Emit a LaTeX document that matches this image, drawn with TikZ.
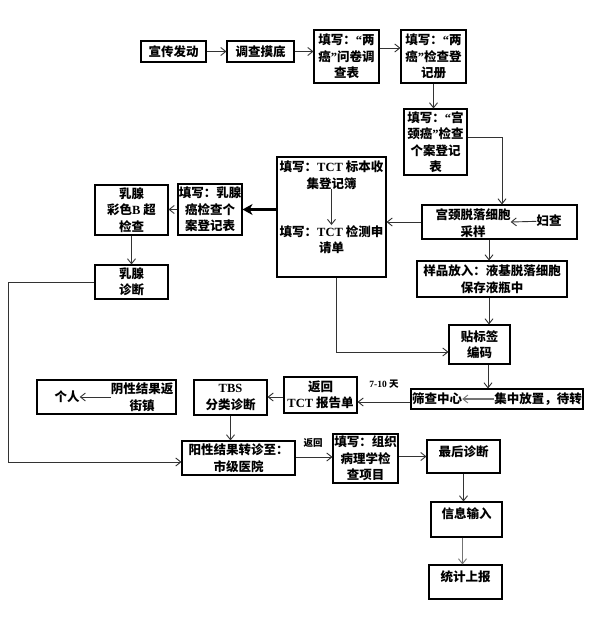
\documentclass[tikz,border=0pt]{standalone}
\usepackage{fontspec}
\setmainfont{Liberation Serif}
\newfontfamily\cjk{Noto Sans CJK SC}
\usetikzlibrary{arrows.meta}
\newcommand\lt[1]{{\rmfamily\bfseries #1}}
\newcommand\mylq{\lt{“}}
\newcommand\myrq{\lt{”}}
\begin{document}
\begin{tikzpicture}[x=1pt,y=-1pt,
 box/.style={draw=black,line width=1.1pt,inner sep=0pt,align=center,font=\cjk\bfseries\fontsize{12.5}{16.5}\selectfont},
 txt/.style={inner sep=0pt,align=center,font=\cjk\bfseries\fontsize{12.5}{16.5}\selectfont},
 small/.style={inner sep=0pt,align=center,font=\cjk\bfseries\fontsize{9.5}{11}\selectfont},
 arr/.style={draw=black!80,line width=0.9pt,-{Straight Barb[length=5pt,width=8pt]}},
 garr/.style={draw=black!55,line width=1.6pt,-{Straight Barb[length=5pt,width=8pt,line width=0.9pt]}},
 thick arr/.style={draw=black,line width=2.6pt,-{Stealth[length=10pt,width=11pt,inset=3pt]}},
]
\useasboundingbox (0,0) rectangle (592,636);
\fill[white] (0,0) rectangle (592,636);

% top row
\node[box,minimum width=65pt,minimum height=21pt] (b1) at (173.5,51.5) {宣传发动};
\node[box,minimum width=67pt,minimum height=21pt] (b2) at (260.5,51.5) {调查摸底};
\node[box,minimum width=65pt,minimum height=53pt] (b3) at (346.5,56.5) {填写：\mylq 两\\癌\myrq 问卷调\\查表};
\node[box,minimum width=65pt,minimum height=53pt] (b4) at (433.5,56.5) {填写：\mylq 两\\癌\myrq 检查登\\记册};
\node[box,minimum width=63pt,minimum height=66pt] (b5) at (435.5,142) {填写：\mylq 宫\\颈癌\myrq 检查\\个案登记\\表};

% TCT box
\node[box,minimum width=109pt,minimum height=120pt] (b6) at (331.5,217) {};
\node[txt] (t6a) at (331.5,175) {填写：\lt{TCT} 标本收\\集登记簿};
\node[txt] (t6b) at (331.5,239.5) {填写：\lt{TCT} 检测申\\请单};

% breast branch
\node[box,minimum width=64pt,minimum height=51pt] (b7) at (210,209.5) {填写：乳腺\\癌检查个\\案登记表};
\node[box,minimum width=73pt,minimum height=50pt] (b8) at (131.5,210) {乳腺\\彩色\lt{B} 超\\检查};
\node[box,minimum width=73pt,minimum height=34pt] (b9) at (131.5,282) {乳腺\\诊断};

% cervical sampling
\node[box,minimum width=155pt,minimum height=34pt] (b10) at (499.5,222) {};
\node[txt] (t10) at (473,223) {宫颈脱落细胞\\采样};
\node[txt] (fz) at (549,221) {妇查};
\node[box,minimum width=150pt,minimum height=36pt] (b11) at (492,279) {样品放入：液基脱落细胞\\保存液瓶中};
\node[box,minimum width=61pt,minimum height=39pt] (b12) at (479.5,344.5) {贴标签\\编码};

% screening centre row
\node[box,minimum width=172pt,minimum height=20pt] (b13) at (497,399) {};
\node[txt] (t13a) at (437,399) {筛查中心};
\node[txt] (t13b) at (538,399) {集中放置，待转};
\node[box,minimum width=73pt,minimum height=36pt] (b14) at (320.5,395) {返回\\\lt{TCT} 报告单};
\node[box,minimum width=73pt,minimum height=35pt] (b15) at (230.5,397.5) {\lt{TBS}\\分类诊断};
\node[box,minimum width=139pt,minimum height=34pt] (b16) at (106.5,397) {};
\node[txt] (t16a) at (142,397) {阴性结果返\\街镇};
\node[txt] (t16b) at (67,397) {个人};

% bottom
\node[box,minimum width=113pt,minimum height=34pt] (b17) at (238.5,458) {阳性结果转诊至：\\市级医院};
\node[box,minimum width=65pt,minimum height=49pt] (b18) at (365.5,458.5) {填写：组织\\病理学检\\查项目};
\node[box,minimum width=73pt,minimum height=33pt] (b19) at (463.5,456.5) {};
\node[txt] (t19) at (463.5,452) {最后诊断};
\node[box,minimum width=71pt,minimum height=35pt] (b20) at (466.5,519.5) {};
\node[txt] (t20) at (466.5,514) {信息输入};
\node[box,minimum width=73pt,minimum height=34pt] (b21) at (465.5,582) {};
\node[txt] (t21) at (465.5,577) {统计上报};

\node[small] (l710) at (384,384) {\lt{7-10} 天};
\node[small] (lfh) at (313,443) {返回};
\coordinate (c1) at (8,282);

% connectors
\draw[arr] (b1.east) -- (b1.east -| b2.west);
\draw[arr] (b2.east) -- (b2.east -| b3.west);
\draw[arr] ([yshift=8.5pt]b3.east) -- ([yshift=8.5pt]b4.west);
\draw[arr] (b4.south) -- (b4.south |- b5.north);
\draw[arr] ([yshift=5pt]b5.east) -| ([xshift=2.5pt]b10.north);
\draw[arr] (b10.west) -- (b10.west -| b6.east);
\draw[arr] (t6a) -- (t6b);
\draw[arr] (fz) -- (t10);
\draw[thick arr] (b6.west |- b7.east) -- (b7.east);
\draw[arr] (b7.west) -- (b7.west -| b8.east);
\draw[arr] (b8.south) -- (b8.south |- b9.north);
\draw[arr] (b9.west) -- (c1) |- ([yshift=-4pt]b17.west);
\draw[arr] ([xshift=4.5pt]b6.south) |- ([yshift=-7.5pt]b12.west);
\draw[arr] ([xshift=-3pt]b11.north |- b10.south) -- ([xshift=-3pt]b11.north);
\draw[arr] ([xshift=-3pt]b11.south) -- ([xshift=-3pt]b11.south |- b12.north);
\draw[arr] ([xshift=8.5pt]b12.south) -- ([xshift=8.5pt]b12.south |- b13.north);
\draw[garr] (t13b) -- (t13a);
\draw[arr] ([yshift=-3pt]b13.west) -- ([yshift=-3pt]b13.west -| b14.east);
\draw[arr] ([yshift=-2pt]b14.west) -- ([yshift=-2pt]b14.west -| b15.east);
\draw[arr] (t16a) -- (t16b);
\draw[arr] (b15.south) -- (b15.south |- b17.north);
\draw[arr] ([yshift=1pt]b17.east) -- ([yshift=1pt]b17.east -| b18.west);
\draw[arr] (b18.east |- b19.west) -- (b19.west);
\draw[arr] (b19.south) -- (b19.south |- b20.north);
\draw[garr] ([xshift=-4pt]b20.south) -- ([xshift=-4pt]b20.south |- b21.north);
\end{tikzpicture}
\end{document}
